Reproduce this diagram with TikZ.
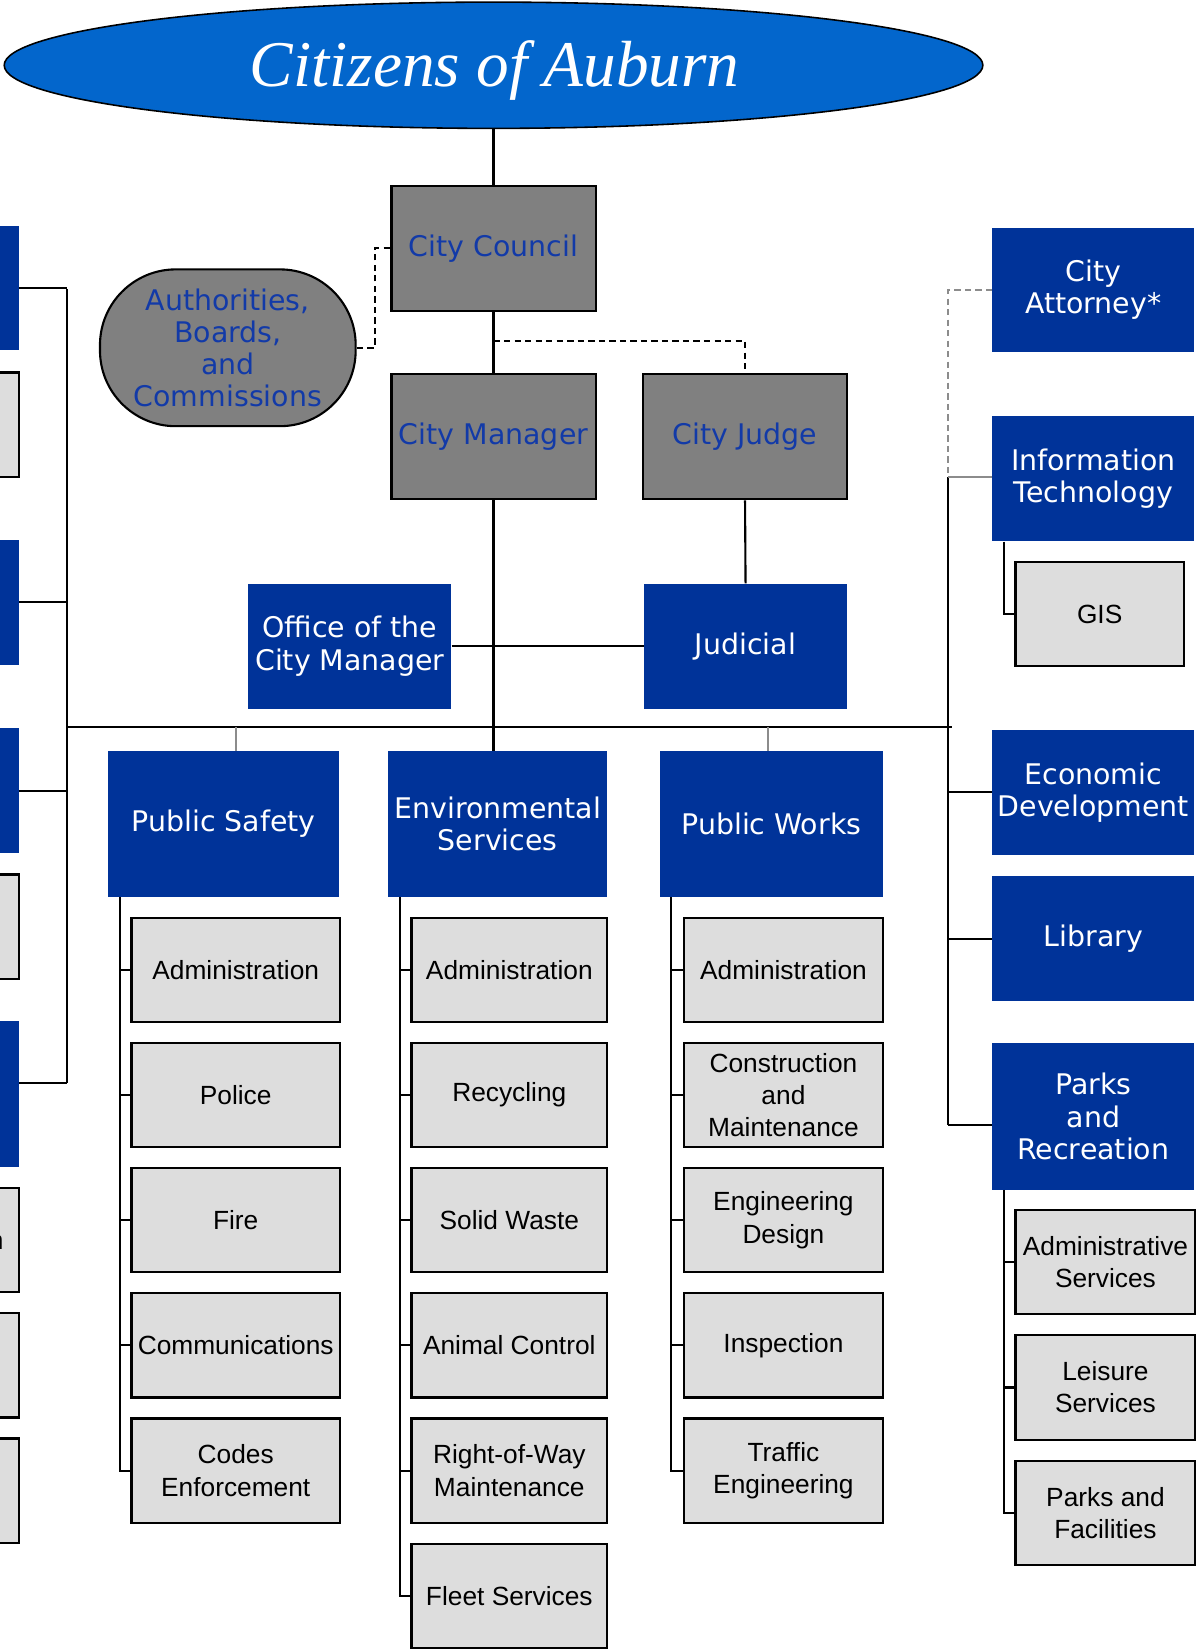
\documentclass[tikz,border=0pt]{standalone}
\usepackage{fontspec}
\setmainfont{Liberation Sans}
\newfontfamily\bluefnt{DejaVu Sans}
\newfontfamily\titlefnt{Liberation Serif}
\usetikzlibrary{shapes.geometric,calc}
\definecolor{boxblue}{RGB}{0,51,153}
\definecolor{ellblue}{RGB}{3,102,204}
\definecolor{midgray}{RGB}{128,128,128}
\definecolor{kidgray}{RGB}{221,221,221}
\definecolor{textblue}{RGB}{18,58,168}
\definecolor{linegray}{RGB}{140,140,140}
\tikzset{
  bluebox/.style={fill=boxblue, text=white, font=\bluefnt\fontsize{27}{30.5}\selectfont, align=center, inner sep=0pt, minimum width=192pt, minimum height=119pt},
  graybox/.style={fill=midgray, draw=black, line width=2pt, text=textblue, font=\bluefnt\fontsize{27}{30.5}\selectfont, align=center, inner sep=0pt, minimum width=194pt, minimum height=119pt},
  kid/.style={fill=kidgray, draw=black, line width=2pt, text=black, font=\fontsize{25}{30.5}\selectfont, align=center, inner sep=0pt, minimum height=99pt},
  pskid/.style={kid, minimum width=198pt},
  envkid/.style={kid, minimum width=186pt},
  pwkid/.style={kid, minimum width=189pt},
  prkid/.style={kid, minimum width=171pt},
  conn/.style={draw=black, line width=2pt},
  gconn/.style={draw=linegray, line width=1.6pt},
  dconn/.style={draw=black, line width=1.7pt, dash pattern=on 6pt off 4pt},
  gdconn/.style={draw=linegray, line width=1.6pt, dash pattern=on 6pt off 4pt},
}
\begin{document}
\begin{tikzpicture}[x=1pt,y=-1pt]
\useasboundingbox (0,0) rectangle (1142,1568);
\clip (0,0) rectangle (1142,1568);

% top
\node[ellipse, fill=ellblue, draw=black, line width=1.5pt, minimum width=930pt, minimum height=120pt, inner sep=0pt] (cit) at (469,62) {};
\node[text=white, inner sep=0pt, font=\titlefnt\itshape\fontsize{62}{70}\selectfont] (title) at (470,67) {Citizens of Auburn};
\node[graybox] (council) at (469,236) {City Council};
\node[fill=midgray, draw=black, line width=2pt, rounded corners=72pt, minimum width=243pt, minimum height=149pt,
      inner sep=0pt, text=textblue, align=center, font=\bluefnt\fontsize{27}{30.5}\selectfont] (auth) at (216.5,330.5)
      {Authorities,\\Boards,\\and\\Commissions};
\node[graybox] (manager) at (469,415) {City Manager};
\node[graybox] (judge) at (708,415) {City Judge};
\node[bluebox, minimum width=193pt] (office) at (332.5,614) {Office of the\\City Manager};
\node[bluebox, minimum width=193pt] (judicial) at (708.5,614) {Judicial};

% departments
\node[bluebox, minimum width=219pt, minimum height=139pt] (ps) at (212.5,783) {Public Safety};
\node[bluebox, minimum width=208pt, minimum height=139pt] (env) at (473,783) {Environmental\\Services};
\node[bluebox, minimum width=212pt, minimum height=139pt] (pw) at (733,783) {Public Works};

\node[pskid] (pk1) at (224,921.5) {Administration};
\node[pskid] (pk2) at (224,1040.5) {Police};
\node[pskid] (pk3) at (224,1159.5) {Fire};
\node[pskid] (pk4) at (224,1278.5) {Communications};
\node[pskid] (pk5) at (224,1397.5) {Codes\\Enforcement};

\node[envkid] (ek1) at (484,921.5) {Administration};
\node[envkid] (ek2) at (484,1040.5) {Recycling};
\node[envkid] (ek3) at (484,1159.5) {Solid Waste};
\node[envkid] (ek4) at (484,1278.5) {Animal Control};
\node[envkid] (ek5) at (484,1397.5) {Right-of-Way\\Maintenance};
\node[envkid] (ek6) at (484,1517) {Fleet Services};

\node[pwkid] (wk1) at (744.5,921.5) {Administration};
\node[pwkid] (wk2) at (744.5,1040.5) {Construction\\and\\Maintenance};
\node[pwkid] (wk3) at (744.5,1159.5) {Engineering\\Design};
\node[pwkid] (wk4) at (744.5,1278.5) {Inspection};
\node[pwkid] (wk5) at (744.5,1397.5) {Traffic\\Engineering};

% right side
\node[bluebox, minimum height=118pt] (att) at (1039,275.5) {City\\Attorney*};
\node[bluebox] (it) at (1039,455) {Information\\Technology};
\node[kid, minimum width=160pt] (gis) at (1045,583.5) {GIS};
\node[bluebox] (econ) at (1039,753) {Economic\\Development};
\node[bluebox] (lib) at (1039,892) {Library};
\node[bluebox, minimum height=139pt] (parks) at (1039,1061) {Parks\\and\\Recreation};
\node[prkid] (rk1) at (1050.5,1199.5) {Administrative\\Services};
\node[prkid] (rk2) at (1050.5,1318.5) {Leisure\\Services};
\node[prkid] (rk3) at (1050.5,1437.5) {Parks and\\Facilities};

% left side (cut off by the page edge)
\node[bluebox, minimum width=80pt, minimum height=118pt] (lb1) at (-22,274) {};
\node[bluebox, minimum width=80pt] (lb2) at (-22,572.5) {};
\node[bluebox, minimum width=80pt] (lb3) at (-22,751.5) {};
\node[bluebox, minimum width=80pt, minimum height=139pt] (lb4) at (-22,1039.5) {};
\node[kid, minimum width=80pt] (lg1) at (-22,403.5) {};
\node[kid, minimum width=80pt] (lg2) at (-22,880.5) {};
\node[kid, minimum width=80pt] (lg3) at (-22,1178.5) {};
\node[kid, minimum width=80pt] (lg4) at (-22,1297.5) {};
\node[kid, minimum width=80pt] (lg5) at (-22,1416.5) {};
\node[anchor=base east, inner sep=0pt, font=\fontsize{25}{30}\selectfont] (frag) at (3.5,1187) {n};

% connectors: top
\draw[conn] (council.north |- cit.south) -- (council.north);
\draw[conn] (council.south) -- (manager.north);
\draw[dconn] (auth.east) -- ++(17,0) |- (council.west);
\coordinate (cj) at (469,324);
\draw[dconn] (cj) -| (judge.north);
\draw[conn] (manager.south) -- (manager.south |- env.north);
\draw[conn] (judge.south) -- (judicial.north);
\draw[conn] (office.east) -- (judicial.west);

% bus
\coordinate (busL) at (64,691);
\coordinate (busR) at (905,691);
\draw[conn] (busL) -- (busR);
\draw[gconn] (pk1.north |- busL) -- (pk1.north |- ps.north);
\draw[gconn] ([xshift=-3pt]pw.north |- busL) -- ([xshift=-3pt]pw.north);

% left trunk
\coordinate (lvt) at (64,275);
\coordinate (lvb) at (64,1029);
\draw[conn] (lvt) -- (lvb);
\draw[conn] (lb1.east) -- (lb1.east -| lvt);
\draw[conn] (lb2.east) -- (lb2.east -| lvt);
\draw[conn] (lb3.east) -- (lb3.east -| lvt);
\draw[conn] ([yshift=10.5pt]lb4.east) -- (lvb);

% right trunk
\coordinate (rvt) at (901,453.5);
\coordinate (rvb) at (901,1069);
\draw[conn] (rvt) -- (rvb);
\draw[gconn] (rvt) -- (rvt -| it.west);
\draw[gdconn] (att.west) -| (rvt);
\draw[conn] (econ.west -| rvt) -- (econ.west);
\draw[conn] (lib.west -| rvt) -- (lib.west);
\draw[conn] (rvb) -- (rvb -| parks.west);
\coordinate (gsp) at (954,0);
\draw[conn] (it.south -| gsp) |- (gis.west);
\draw[conn] (parks.south -| gsp) |- (rk3.west);
\foreach \k in {rk1,rk2} \draw[conn] (\k.west -| gsp) -- (\k.west);

% column spines
\coordinate (pssp) at (114,0);
\coordinate (ensp) at (380,0);
\coordinate (pwsp) at (638,0);
\draw[conn] (ps.south -| pssp) |- (pk5.west);
\foreach \k in {pk1,pk2,pk3,pk4} \draw[conn] (\k.west -| pssp) -- (\k.west);
\draw[conn] (env.south -| ensp) |- (ek6.west);
\foreach \k in {ek1,ek2,ek3,ek4,ek5} \draw[conn] (\k.west -| ensp) -- (\k.west);
\draw[conn] (pw.south -| pwsp) |- (wk5.west);
\foreach \k in {wk1,wk2,wk3,wk4} \draw[conn] (\k.west -| pwsp) -- (\k.west);
\end{tikzpicture}
\end{document}
